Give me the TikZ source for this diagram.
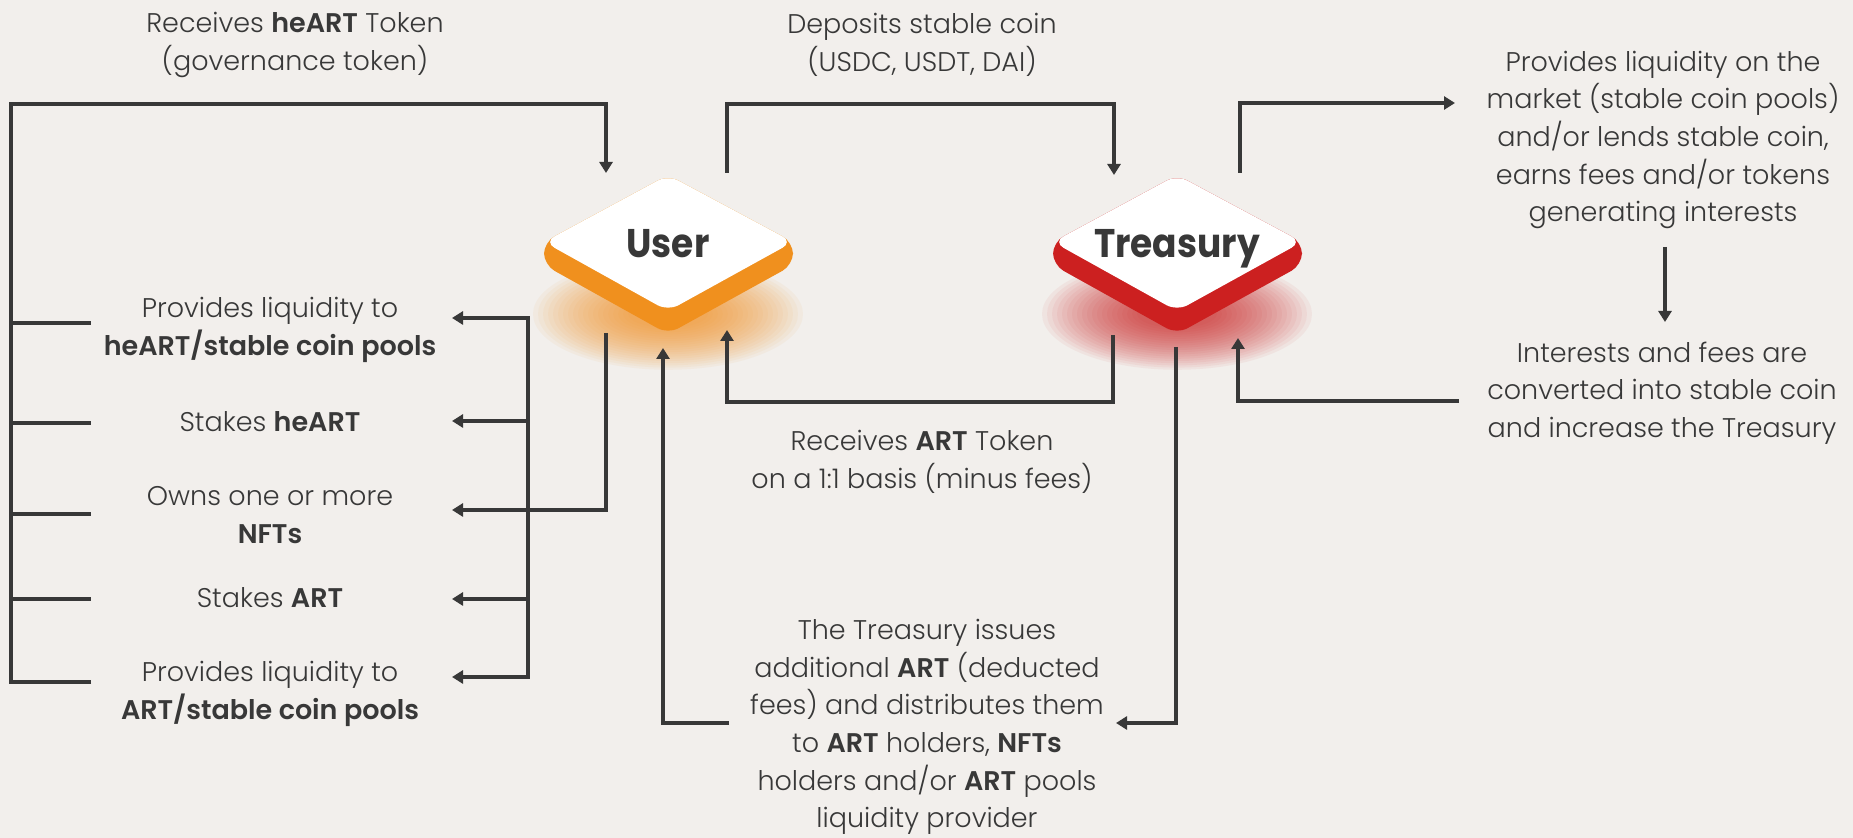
\documentclass[tikz,border=0pt]{standalone}
\usepackage{fontspec}
\IfFontExistsTF{Poppins Light}
  {\IfFontExistsTF{Poppins SemiBold}
    {\setmainfont{Poppins Light}[BoldFont={Poppins SemiBold}]}
    {\setmainfont{Poppins Light}[BoldFont={Poppins}]}}
  {\setmainfont{Poppins}}
\newfontfamily\titlefont{Poppins}[FakeStretch=0.9]
\usetikzlibrary{arrows.meta}

\definecolor{paper}{HTML}{F2EFEC}
\definecolor{ink}{HTML}{383838}
\definecolor{userorange}{HTML}{F0901E}
\definecolor{treasuryred}{HTML}{CC2020}

\begin{document}
\begin{tikzpicture}
[
  x=0.5pt, y=-0.5pt,
  wire/.style  = {draw=ink, line width=1.7pt},
  flow/.style  = {wire, -{Triangle[width=6.5pt,length=5.5pt]}},
  txt/.style   = {text=ink, align=center, inner sep=0pt, font=\fontsize{13.5}{18.85}\selectfont},
  title/.style = {text=ink, inner sep=0pt, anchor=base, font=\titlefont\bfseries\fontsize{20}{24}\selectfont},
]
\fill[paper] (0,0) rectangle (1853,838);
\useasboundingbox (0,0) rectangle (1853,838);

%platforms: glow, side, top face, name
\foreach \cx/\col/\nm/\lbl in {668/userorange/user/User, 1177/treasuryred/treasury/Treasury}
{
  \foreach \k in {0,...,19}
    \fill[\col, opacity=0.055] (\cx,314) ellipse [x radius={40+5*\k}, y radius={14+2.2*\k}];
  \fill[\col, rounded corners=6pt]
    (\cx-124,242) -- (\cx,175) -- (\cx+125,242) -- (\cx+125,265) -- (\cx,334) -- (\cx-124,265) -- cycle;
  \fill[white, rounded corners=6pt]
    (\cx-124,242) -- (\cx,175) -- (\cx+125,242) -- (\cx,311) -- cycle;
  \node[title] (\nm) at (\cx,258) {\lbl};
}

\coordinate (u-nw) at (606,173); %heART token in
\coordinate (u-ne) at (727,173); %deposit out
\coordinate (u-sw) at (606,333); %down to the list
\coordinate (u-s)  at (663,348); %issued ART in
\coordinate (u-se) at (727,330); %ART token in
\coordinate (t-nw) at (1114,175);
\coordinate (t-ne) at (1240,173);
\coordinate (t-sw) at (1113,335);
\coordinate (t-s)  at (1176,347);
\coordinate (t-se) at (1238,338);
\coordinate (m-in)  at (1455,103);
\coordinate (m-out) at (1665,247);
\coordinate (c-in)  at (1665,322);
\coordinate (c-out) at (1459,401);
\coordinate (i-in)  at (1116,723);
\coordinate (i-out) at (729,723);
\coordinate (o-in)  at (452,510);

%labels
\node[txt] (heartlbl) at (295,45) {Receives \textbf{heART} Token\\(governance token)};
\node[txt] (depositlbl) at (922,45) {Deposits stable coin\\(USDC, USDT, DAI)};
\node[txt] (marketlbl) at (1663,140) {Provides liquidity on the\\market (stable coin pools)\\and/or lends stable coin,\\earns fees and/or tokens\\generating interests};
\node[txt] (convertlbl) at (1662,393) {Interests and fees are\\converted into stable coin\\and increase the Treasury};
\node[txt] (artlbl) at (922,462) {Receives \textbf{ART} Token\\on a 1:1 basis (minus fees)};
\node[txt] (issuelbl) at (927,727) {The Treasury issues\\additional \textbf{ART} (deducted\\fees) and distributes them\\to \textbf{ART} holders, \textbf{NFTs}\\holders and/or \textbf{ART} pools\\liquidity provider};

%what the user does with the tokens
\node[txt] (lpheart) at (270,330) {Provides liquidity to\\\textbf{heART/stable coin pools}};
\node[txt] (stakeheart) at (270,422) {Stakes \textbf{heART}};
\node[txt] (ownsnft) at (270,515) {Owns one or more\\\textbf{NFTs}};
\node[txt] (stakeart) at (270,598) {Stakes \textbf{ART}};
\node[txt] (lpart) at (270,694) {Provides liquidity to\\\textbf{ART/stable coin pools}};

%left rail back to the user
\draw[flow] (91,682) -| (11,104) -| (u-nw);
\foreach \y in {323,423,514,599}
  \draw[wire] (11,\y) -- (91,\y);

%user <-> treasury
\draw[flow] (u-ne) -- ++(0,-69) -| (t-nw);
\draw[flow] (t-sw) -- ++(0,67) -| (u-se);
\draw[flow] (t-s) |- (i-in);
\draw[flow] (i-out) -| (u-s);

%treasury on the market
\draw[flow] (t-ne) |- (m-in);
\draw[flow] (m-out) -- (c-in);
\draw[flow] (c-out) -| (t-se);

%user to the list
\draw[flow] (u-sw) |- (o-in);
\draw[wire, line cap=rect] (528,318) -- (528,677);
\foreach \y in {318,421,599,677}
  \draw[flow] (528,\y) -- (452,\y);
\end{tikzpicture}
\end{document}
